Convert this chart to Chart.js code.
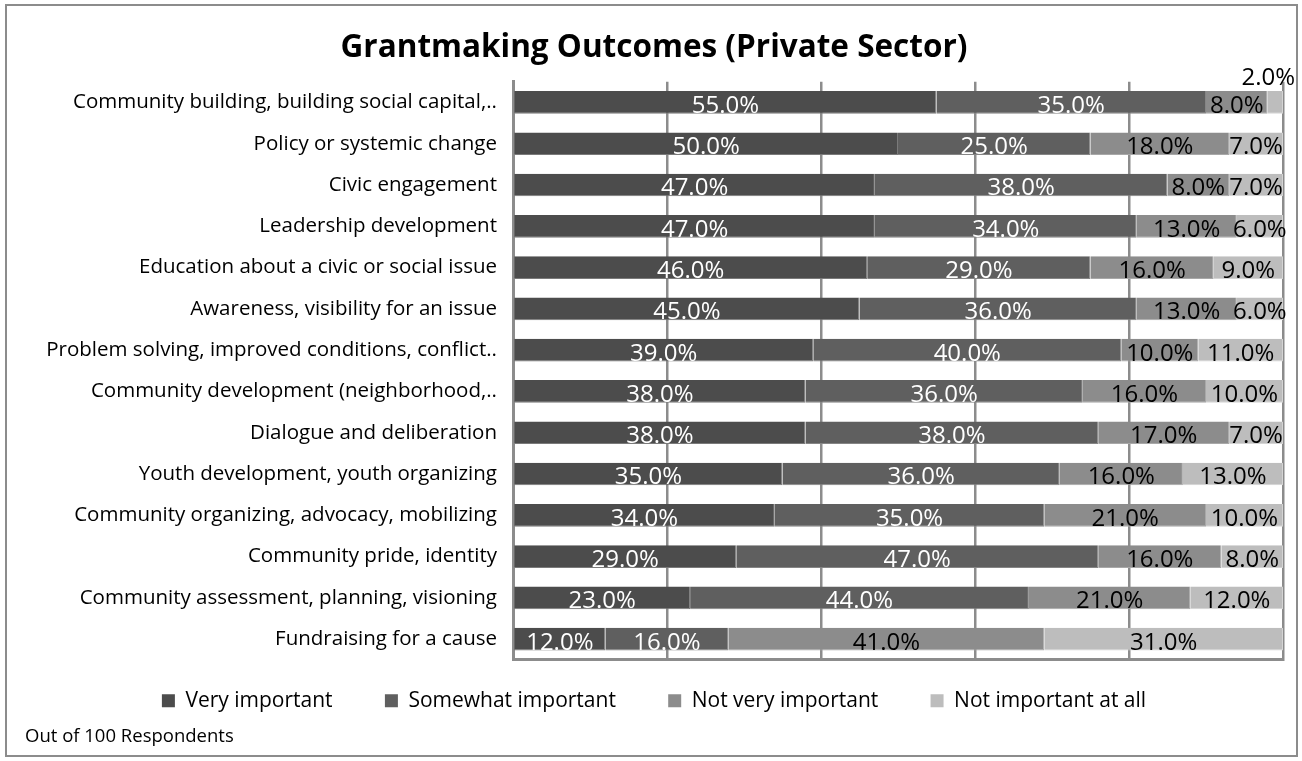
<!DOCTYPE html>
<html>
<head>
<meta charset="utf-8">
<title>Grantmaking Outcomes (Private Sector)</title>
<script src="https://cdn.jsdelivr.net/npm/chart.js@4.4.1/dist/chart.umd.min.js"></script>
<style>
  html, body { margin: 0; padding: 0; background: #fff; }
  #frame { position: absolute; left: 5px; top: 4px; width: 1289px; height: 749px; border: 2px solid #8c8c8c; }
  #frame canvas { display: block; }
</style>
</head>
<body>
<div id="frame"><canvas id="chart"></canvas></div>
<script>
  // ---------------- data ----------------
  const categories = [
    "Community building, building social capital,..",
    "Policy or systemic change",
    "Civic engagement",
    "Leadership development",
    "Education about a civic or social issue",
    "Awareness, visibility for an issue",
    "Problem solving, improved conditions, conflict..",
    "Community development (neighborhood,..",
    "Dialogue and deliberation",
    "Youth development, youth organizing",
    "Community organizing, advocacy, mobilizing",
    "Community pride, identity",
    "Community assessment, planning, visioning",
    "Fundraising for a cause"
  ];
  const veryImportant     = [55, 50, 47, 47, 46, 45, 39, 38, 38, 35, 34, 29, 23, 12];
  const somewhatImportant = [35, 25, 38, 34, 29, 36, 40, 36, 38, 36, 35, 47, 44, 16];
  const notVeryImportant  = [ 8, 18,  8, 13, 16, 13, 10, 16, 17, 16, 21, 16, 21, 41];
  const notImportantAtAll = [ 2,  7,  7,  6,  9,  6, 11, 10,  7, 13, 10,  8, 12, 31];
  const seriesNames = ["Very important", "Somewhat important", "Not very important", "Not important at all"];

  // ---------------- styles ----------------
  const seriesColors = ["#4c4c4c", "#5f5f5f", "#8c8c8c", "#bdbdbd"];
  const edgeColors   = ["#7a7a7a", "#858585", "#a8a8a8", "#d4d4d4"];
  const labelColors  = ["#ffffff", "#ffffff", "#000000", "#000000"];
  const GRID = "#8c8c8c";
  const FONT = "'Open Sans', sans-serif";

  // value labels inside each segment (too narrow ones go above the bar)
  const segmentLabels = {
    id: "segmentLabels",
    afterDatasetsDraw(chart) {
      const ctx = chart.ctx, area = chart.chartArea;
      ctx.save();
      ctx.font = "24px " + FONT;
      ctx.textAlign = "center";
      ctx.textBaseline = "alphabetic";
      chart.data.datasets.forEach((ds, i) => {
        chart.getDatasetMeta(i).data.forEach((bar, j) => {
          const { x, y, base, height } = bar.getProps(["x", "y", "base", "height"], true);
          const text = ds.data[j].toFixed(1) + "%";
          const w = ctx.measureText(text).width;
          let cx = (x + base) / 2;
          let cy = y + height / 2 - 1;
          ctx.fillStyle = labelColors[i];
          if (Math.abs(x - base) < w * 0.5) {
            cx = Math.min(cx, area.right + 12 - w / 2);
            cy = y - height / 2 - 6;
            ctx.fillStyle = "#000";
          }
          ctx.fillText(text, cx, cy);
        });
      });
      ctx.restore();
    }
  };

  const seriesData = [veryImportant, somewhatImportant, notVeryImportant, notImportantAtAll];

  new Chart(document.getElementById("chart"), {
    type: "bar",
    data: {
      labels: categories,
      datasets: seriesNames.map((name, i) => ({
        label: name,
        data: seriesData[i],
        backgroundColor: seriesColors[i],
        borderColor: edgeColors[i],
        borderWidth: { top: 0, left: 0, right: 1, bottom: 1 },
        borderSkipped: false,
        barPercentage: 0.55,
        categoryPercentage: 1
      }))
    },
    options: {
      indexAxis: "y",
      responsive: true,
      maintainAspectRatio: false,
      animation: false,
      layout: { padding: { left: 18, right: 13, top: 0, bottom: 0 } },
      scales: {
        x: {
          stacked: true, min: 0, max: 100,
          ticks: { display: false, stepSize: 20 },
          grid: { color: GRID, lineWidth: 2.5, drawTicks: false },
          border: { color: GRID, width: 3 }
        },
        y: {
          stacked: true,
          grid: { display: false, drawTicks: false },
          border: { display: true, color: GRID, width: 3 },
          ticks: { color: "#000", autoSkip: false, padding: 16, font: { family: FONT, size: 20.5 } },
          afterFit(scale) { scale.width = 488; }
        }
      },
      plugins: {
        title: {
          display: true,
          text: "Grantmaking Outcomes (Private Sector)",
          color: "#000",
          font: { family: FONT, size: 31.5, weight: "bold" },
          padding: { top: 23, bottom: 15 }
        },
        subtitle: {
          display: true,
          text: "Out of 100 Respondents",
          position: "bottom",
          align: "start",
          color: "#000",
          font: { family: FONT, size: 18.5, weight: "normal" },
          padding: { top: 4.5, bottom: 7 }
        },
        legend: {
          position: "bottom",
          labels: {
            color: "#000", boxWidth: 13, boxHeight: 13, padding: 30.5,
            font: { family: FONT, size: 21 },
            // wider gaps between the legend entries
            generateLabels(chart) {
              const items = Chart.defaults.plugins.legend.labels.generateLabels(chart);
              items.forEach((it, k) => {
                it.lineWidth = 0;
                if (k < items.length - 1) it.text += "\u00a0\u00a0\u00a0\u00a0";
              });
              return items;
            }
          }
        },
        tooltip: { enabled: false }
      }
    },
    plugins: [segmentLabels]
  });
</script>
</body>
</html>
